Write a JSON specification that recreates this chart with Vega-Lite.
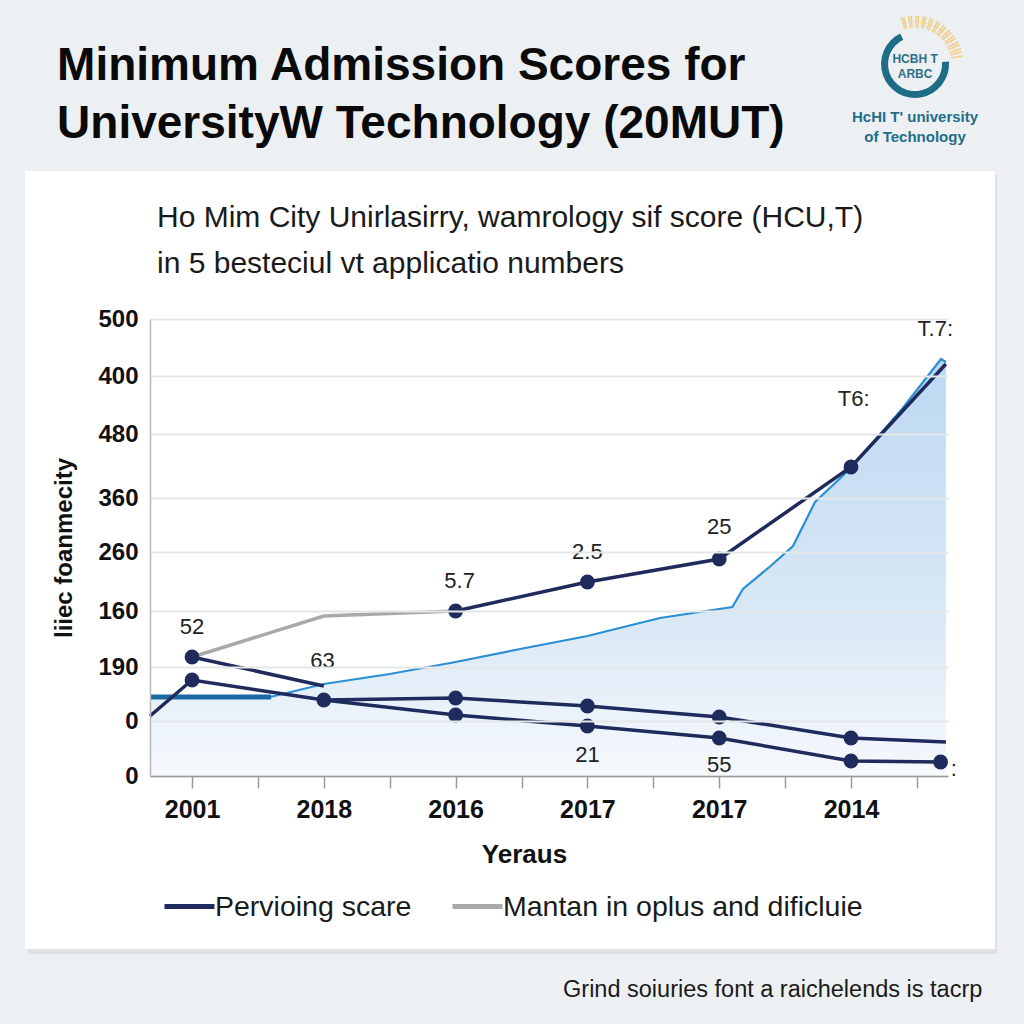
{
  "$schema": "https://vega.github.io/schema/vega-lite/v6.json",
  "background": "#edf0f2",
  "padding": {"left": 25, "top": -3, "right": 27, "bottom": 22},
  "title": {
    "text": ["Minimum Admission Scores for", "UniversityW Technology (20MUT)"],
    "anchor": "start", "frame": "bounds", "dx": 32, "offset": -150,
    "font": "Liberation Sans", "fontSize": 46, "fontWeight": "bold", "color": "#0a0a0a", "lineHeight": 58
  },
  "datasets": {
    "lines": [
      {"series": "lower1", "legend": "Pervioing scare", "slot": -0.319, "score": 60, "pt": 0},
      {"series": "lower1", "legend": "Pervioing scare", "slot": 0, "score": 96, "pt": 1},
      {"series": "lower1", "legend": "Pervioing scare", "slot": 1, "score": 76, "pt": 1},
      {"series": "lower1", "legend": "Pervioing scare", "slot": 2, "score": 61, "pt": 1},
      {"series": "lower1", "legend": "Pervioing scare", "slot": 3, "score": 50, "pt": 1},
      {"series": "lower1", "legend": "Pervioing scare", "slot": 4, "score": 38, "pt": 1},
      {"series": "lower1", "legend": "Pervioing scare", "slot": 5, "score": 15, "pt": 1},
      {"series": "lower1", "legend": "Pervioing scare", "slot": 5.68, "score": 14, "pt": 1},
      {"series": "lower2", "legend": "Pervioing scare", "slot": 1, "score": 76, "pt": 0},
      {"series": "lower2", "legend": "Pervioing scare", "slot": 2, "score": 78, "pt": 1},
      {"series": "lower2", "legend": "Pervioing scare", "slot": 3, "score": 70, "pt": 1},
      {"series": "lower2", "legend": "Pervioing scare", "slot": 4, "score": 59, "pt": 1},
      {"series": "lower2", "legend": "Pervioing scare", "slot": 5, "score": 38, "pt": 1},
      {"series": "lower2", "legend": "Pervioing scare", "slot": 5.72, "score": 34, "pt": 0},
      {"series": "short", "legend": "Pervioing scare", "slot": 0, "score": 119, "pt": 1},
      {"series": "short", "legend": "Pervioing scare", "slot": 1, "score": 90, "pt": 0},
      {"series": "upper", "legend": "Pervioing scare", "slot": 2, "score": 165, "pt": 1},
      {"series": "upper", "legend": "Pervioing scare", "slot": 3, "score": 194, "pt": 1},
      {"series": "upper", "legend": "Pervioing scare", "slot": 4, "score": 217, "pt": 1},
      {"series": "upper", "legend": "Pervioing scare", "slot": 5, "score": 309, "pt": 1},
      {"series": "upper", "legend": "Pervioing scare", "slot": 5.72, "score": 412, "pt": 0},
      {"series": "gray", "legend": "Mantan in oplus and dificluie", "slot": 0, "score": 119, "pt": 0},
      {"series": "gray", "legend": "Mantan in oplus and dificluie", "slot": 1, "score": 160, "pt": 0},
      {"series": "gray", "legend": "Mantan in oplus and dificluie", "slot": 2, "score": 165, "pt": 0}
    ],
    "blue": [
      {"slot": -0.319, "score": 79}, {"slot": 0.592, "score": 79}, {"slot": 1.0, "score": 92},
      {"slot": 1.5, "score": 102}, {"slot": 2.0, "score": 114}, {"slot": 2.49, "score": 127},
      {"slot": 3.0, "score": 140}, {"slot": 3.55, "score": 158}, {"slot": 4.1, "score": 169},
      {"slot": 4.18, "score": 187}, {"slot": 4.39, "score": 210}, {"slot": 4.56, "score": 230},
      {"slot": 4.727, "score": 274}, {"slot": 4.992, "score": 307}, {"slot": 5.387, "score": 367},
      {"slot": 5.683, "score": 417}, {"slot": 5.72, "score": 414}
    ],
    "thick": [{"slot": -0.319, "score": 79}, {"slot": 0.6, "score": 79}],
    "labels": [
      {"slot": 0, "score": 149, "text": "52"},
      {"slot": 0.99, "score": 115, "text": "63"},
      {"slot": 2.03, "score": 195, "text": "5.7"},
      {"slot": 3, "score": 224, "text": "2.5"},
      {"slot": 4, "score": 249, "text": "25"},
      {"slot": 5.02, "score": 377, "text": "T6:"},
      {"slot": 5.64, "score": 447, "text": "T.7:"},
      {"slot": 3, "score": 21, "text": "21"},
      {"slot": 4, "score": 11, "text": "55"},
      {"slot": 5.78, "score": 7, "text": ":"}
    ]
  },
  "vconcat": [
    {
      "width": 798,
      "height": 457,
      "title": {
        "text": ["Ho Mim City Unirlasirry, wamrology sif score (HCU,T)", "in 5 besteciul vt applicatio numbers"],
        "anchor": "start", "frame": "group", "dx": 7, "offset": -281,
        "font": "Liberation Sans", "fontSize": 30, "fontWeight": "normal", "color": "#1a1a1a", "lineHeight": 46
      },
      "layer": [
        {
          "data": {"values": [{"k": 1}]},
          "mark": {"type": "rect", "color": "#dde1e5"},
          "encoding": {
            "x": {"datum": -1.245, "type": "quantitative", "scale": {"domain": [-0.319, 5.736], "nice": false, "zero": false}},
            "x2": {"datum": 6.11},
            "y": {"datum": 601, "type": "quantitative", "scale": {"domain": [0, 457], "nice": false, "zero": true}},
            "y2": {"datum": -178}
          }
        },
        {
          "data": {"values": [{"k": 1}]},
          "mark": {"type": "rect", "color": "#ffffff"},
          "encoding": {
            "x": {"datum": -1.267, "type": "quantitative", "scale": {"domain": [-0.319, 5.736], "nice": false, "zero": false}},
            "x2": {"datum": 6.093},
            "y": {"datum": 605, "type": "quantitative", "scale": {"domain": [0, 457], "nice": false, "zero": true}},
            "y2": {"datum": -173}
          }
        },
        {
          "data": {"name": "blue"},
          "mark": {
            "type": "area",
            "fill": {
              "gradient": "linear", "x1": 0, "y1": 0, "x2": 0, "y2": 1,
              "stops": [
                {"offset": 0, "color": "#bcd8f1"},
                {"offset": 0.65, "color": "#dbe9f6"},
                {"offset": 1, "color": "#f6f9fd"}
              ]
            }
          },
          "encoding": {
            "x": {"field": "slot", "type": "quantitative", "scale": {"domain": [-0.319, 5.736], "nice": false, "zero": false}},
            "y": {"field": "score", "type": "quantitative", "scale": {"domain": [0, 457], "nice": false, "zero": true}}
          }
        },
        {
          "data": {"name": "blue"},
          "mark": {"type": "line", "color": "#2a8fd4", "strokeWidth": 2.2},
          "encoding": {
            "x": {"field": "slot", "type": "quantitative", "scale": {"domain": [-0.319, 5.736], "nice": false, "zero": false}},
            "y": {"field": "score", "type": "quantitative", "scale": {"domain": [0, 457], "nice": false, "zero": true}}
          }
        },
        {
          "data": {"name": "thick"},
          "mark": {"type": "line", "color": "#1b6aa5", "strokeWidth": 5},
          "encoding": {
            "x": {"field": "slot", "type": "quantitative", "scale": {"domain": [-0.319, 5.736], "nice": false, "zero": false}},
            "y": {"field": "score", "type": "quantitative", "scale": {"domain": [0, 457], "nice": false, "zero": true}}
          }
        },
        {
          "data": {"name": "lines"},
          "mark": {"type": "line", "strokeWidth": 3.5},
          "encoding": {
            "x": {
              "field": "slot", "type": "quantitative",
              "scale": {"domain": [-0.319, 5.736], "nice": false, "zero": false},
              "axis": {
                "title": "Yeraus",
                "values": [0, 0.5, 1, 1.5, 2, 2.5, 3, 3.5, 4, 4.5, 5, 5.5],
                "labelExpr": "datum.value == 0 ? '2001' : datum.value == 1 ? '2018' : datum.value == 2 ? '2016' : datum.value == 3 ? '2017' : datum.value == 4 ? '2017' : datum.value == 5 ? '2014' : ''",
                "grid": false, "domainColor": "#9a9a9a", "domainWidth": 1.5,
                "tickColor": "#9a9a9a", "tickWidth": 1.5, "tickSize": 12,
                "labelFont": "Liberation Sans", "labelFontSize": 25, "labelFontWeight": "bold", "labelColor": "#111111",
                "labelPadding": 9, "labelOverlap": false, "labelFlush": false,
                "titleFont": "Liberation Sans", "titleFontSize": 26, "titleFontWeight": "bold", "titleColor": "#111111",
                "titlePadding": 19, "titleX": 374, "zindex": 1
              }
            },
            "y": {
              "field": "score", "type": "quantitative",
              "scale": {"domain": [0, 457], "nice": false, "zero": true},
              "axis": {
                "title": "liiec foanmecity",
                "values": [0, 55, 109, 165, 224, 278, 342, 400, 457],
                "labelExpr": "datum.value == 457 ? '500' : datum.value == 400 ? '400' : datum.value == 342 ? '480' : datum.value == 278 ? '360' : datum.value == 224 ? '260' : datum.value == 165 ? '160' : datum.value == 109 ? '190' : '0'",
                "grid": true, "gridColor": "#e4e6e8", "gridWidth": 2,
                "domain": true, "domainColor": "#b8b8b8", "domainWidth": 1.5, "ticks": false,
                "labelFont": "Liberation Sans", "labelFontSize": 24, "labelFontWeight": "bold", "labelColor": "#111111",
                "labelPadding": 12,
                "titleFont": "Liberation Sans", "titleFontSize": 24, "titleFontWeight": "bold", "titleColor": "#111111",
                "titlePadding": 21, "zindex": 1
              }
            },
            "color": {
              "field": "legend", "type": "nominal",
              "scale": {"domain": ["Pervioing scare", "Mantan in oplus and dificluie"], "range": ["#1f2b5c", "#a9a9a9"]},
              "legend": {
                "orient": "none", "legendX": 12, "legendY": 560, "direction": "horizontal", "title": null,
                "symbolType": "stroke", "symbolSize": 2500, "symbolStrokeWidth": 5,
                "labelFont": "Liberation Sans", "labelFontSize": 28.5, "labelColor": "#1a1a1a",
                "labelOffset": -2, "columnPadding": 30, "labelLimit": 600
              }
            },
            "detail": {"field": "series", "type": "nominal"}
          }
        },
        {
          "data": {"name": "lines"},
          "transform": [{"filter": "datum.pt == 1"}],
          "mark": {"type": "circle", "size": 220, "color": "#1f2b5c", "opacity": 1},
          "encoding": {
            "x": {"field": "slot", "type": "quantitative", "scale": {"domain": [-0.319, 5.736], "nice": false, "zero": false}},
            "y": {"field": "score", "type": "quantitative", "scale": {"domain": [0, 457], "nice": false, "zero": true}}
          }
        },
        {
          "data": {"name": "labels"},
          "mark": {"type": "text", "font": "Liberation Sans", "fontSize": 22, "color": "#222222"},
          "encoding": {
            "x": {"field": "slot", "type": "quantitative", "scale": {"domain": [-0.319, 5.736], "nice": false, "zero": false}},
            "y": {"field": "score", "type": "quantitative", "scale": {"domain": [0, 457], "nice": false, "zero": true}},
            "text": {"field": "text", "type": "nominal"}
          }
        },
        {
          "data": {"values": [{"k": 1}]},
          "mark": {"type": "arc", "theta": -0.3, "theta2": 1.43, "radius": 42.5, "radius2": 42, "fill": "#f6cf7c", "stroke": "#f4c66a", "strokeWidth": 12, "strokeDash": [1.5, 5], "opacity": 0.8},
          "encoding": {
            "x": {"datum": 5.486, "type": "quantitative", "scale": {"domain": [-0.319, 5.736], "nice": false, "zero": false}},
            "y": {"datum": 712, "type": "quantitative", "scale": {"domain": [0, 457], "nice": false, "zero": true}}
          }
        },
        {
          "data": {"values": [{"k": 1}]},
          "mark": {"type": "arc", "theta": 1.5, "theta2": 5.83, "radius": 34, "radius2": 27, "color": "#1e6c86", "opacity": 1},
          "encoding": {
            "x": {"datum": 5.486, "type": "quantitative", "scale": {"domain": [-0.319, 5.736], "nice": false, "zero": false}},
            "y": {"datum": 712, "type": "quantitative", "scale": {"domain": [0, 457], "nice": false, "zero": true}}
          }
        },
        {
          "data": {"values": [{"k": 1}]},
          "mark": {"type": "text", "font": "Liberation Sans", "fontSize": 12, "fontWeight": "bold", "color": "#2d6f88"},
          "encoding": {
            "x": {"datum": 5.486, "type": "quantitative", "scale": {"domain": [-0.319, 5.736], "nice": false, "zero": false}},
            "y": {"datum": 717, "type": "quantitative", "scale": {"domain": [0, 457], "nice": false, "zero": true}},
            "text": {"value": "HCBH T"}
          }
        },
        {
          "data": {"values": [{"k": 1}]},
          "mark": {"type": "text", "font": "Liberation Sans", "fontSize": 12, "fontWeight": "bold", "color": "#2d6f88"},
          "encoding": {
            "x": {"datum": 5.486, "type": "quantitative", "scale": {"domain": [-0.319, 5.736], "nice": false, "zero": false}},
            "y": {"datum": 702, "type": "quantitative", "scale": {"domain": [0, 457], "nice": false, "zero": true}},
            "text": {"value": "ARBC"}
          }
        },
        {
          "data": {"values": [{"k": 1}]},
          "mark": {"type": "text", "font": "Liberation Sans", "fontSize": 15, "fontWeight": "bold", "color": "#1f6e8a"},
          "encoding": {
            "x": {"datum": 5.486, "type": "quantitative", "scale": {"domain": [-0.319, 5.736], "nice": false, "zero": false}},
            "y": {"datum": 659, "type": "quantitative", "scale": {"domain": [0, 457], "nice": false, "zero": true}},
            "text": {"value": "HcHI T' university"}
          }
        },
        {
          "data": {"values": [{"k": 1}]},
          "mark": {"type": "text", "font": "Liberation Sans", "fontSize": 15, "fontWeight": "bold", "color": "#1f6e8a"},
          "encoding": {
            "x": {"datum": 5.486, "type": "quantitative", "scale": {"domain": [-0.319, 5.736], "nice": false, "zero": false}},
            "y": {"datum": 639, "type": "quantitative", "scale": {"domain": [0, 457], "nice": false, "zero": true}},
            "text": {"value": "of Technology"}
          }
        },
        {
          "data": {"values": [{"k": 1}]},
          "mark": {"type": "text", "font": "Liberation Sans", "fontSize": 23.5, "color": "#1a1a1a", "align": "left"},
          "encoding": {
            "x": {"datum": 2.815, "type": "quantitative", "scale": {"domain": [-0.319, 5.736], "nice": false, "zero": false}},
            "y": {"datum": -214, "type": "quantitative", "scale": {"domain": [0, 457], "nice": false, "zero": true}},
            "text": {"value": "Grind soiuries font a raichelends is tacrp"}
          }
        }
      ]
    }
  ],
  "config": {"view": {"stroke": null}, "font": "Liberation Sans"}
}
